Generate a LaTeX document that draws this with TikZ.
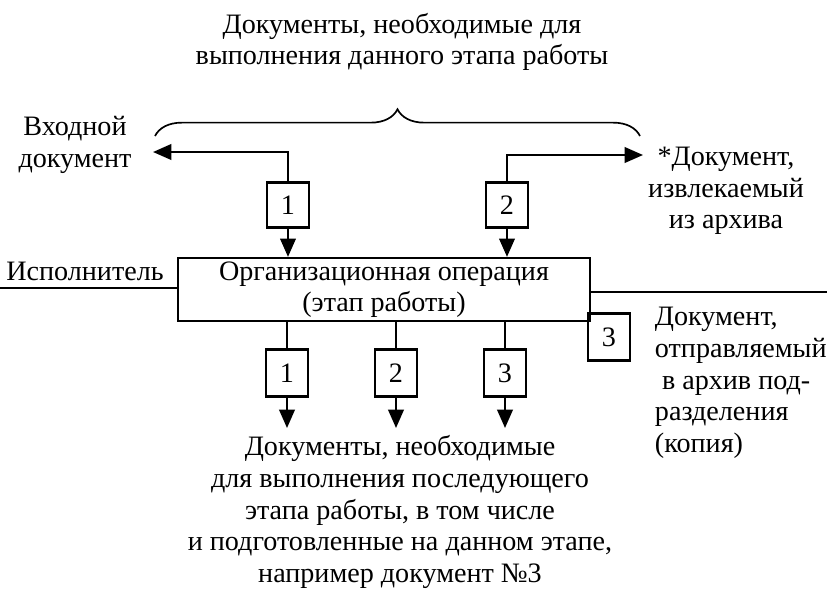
\documentclass[tikz,border=0pt]{standalone}
\usepackage{fontspec}
\setmainfont{Liberation Serif}
\usepackage{tikz}
\usetikzlibrary{arrows.meta, decorations.pathreplacing}

\begin{document}
\begin{tikzpicture}[x=0.025cm, y=-0.025cm,
    every node/.style={font=\fontsize{20}{22.5}\selectfont},
    docbox/.style={draw, line width=1.6pt, minimum width=42*0.025cm, minimum height=45*0.025cm, inner sep=0pt},
    arr/.style={-{Triangle[length=13pt, width=11pt]}, line width=1.6pt}]
    \useasboundingbox (0,0) rectangle (827,613);

    \node (top) [align=center] at (402,42) {Документы, необходимые для\\выполнения данного этапа работы};
    \draw [line width=1.2pt, decorate, decoration={brace, amplitude=19pt}] (155,136) -- (640,136);

    \node (main) [draw, line width=1.6pt, minimum width=412*0.025cm, minimum height=63*0.025cm, align=center, inner sep=0pt]
        at (384,289.5) {Организационная операция\\(этап работы)};

    \node (in1) [docbox] at (288,205) {1};
    \node (in2) [docbox] at (507,205) {2};
    \coordinate (inL) at (153,152);
    \coordinate (inR) at (643,155);
    \draw [arr] (in1.north) |- (inL);
    \draw [arr] (in2.north) |- (inR);
    \draw [arr] (in1.south) -- (in1 |- main.north);
    \draw [arr] (in2.south) -- (in2 |- main.north);
    \node (indoc) [align=center] at (75,145) {Входной\\документ};
    \node (arcdoc) [align=center] at (726,191) {*Документ,\\извлекаемый\\из архива};

    \coordinate (exL) at (0,288);
    \coordinate (exR) at (827,292);
    \draw [line width=1.6pt] (exL) -- (exL -| main.west);
    \draw [line width=1.6pt] (main.east |- exR) -- (exR);
    \node (isp) at (85,271) {Исполнитель};

    \node (arc3) [docbox, minimum height=47*0.025cm] at (609,337) {3};
    \node (arctext) [align=left, anchor=west] at (650,383) {Документ,\\отправляемый\\\ в архив под-\\разделения\\(копия)};

    \foreach \i/\x in {1/287, 2/396, 3/505} {
        \node (out\i) [docbox, minimum height=47*0.025cm] at (\x,373) {\i};
        \coordinate (end\i) at (\x,428);
        \draw [line width=1.6pt] (out\i |- main.south) -- (out\i.north);
        \draw [arr] (out\i.south) -- (end\i);
    }

    \node (next) [align=center] at (400,512) {Документы, необходимые\\для выполнения последующего\\этапа работы, в том числе\\и подготовленные на данном этапе,\\например документ №3};
\end{tikzpicture}
\end{document}
